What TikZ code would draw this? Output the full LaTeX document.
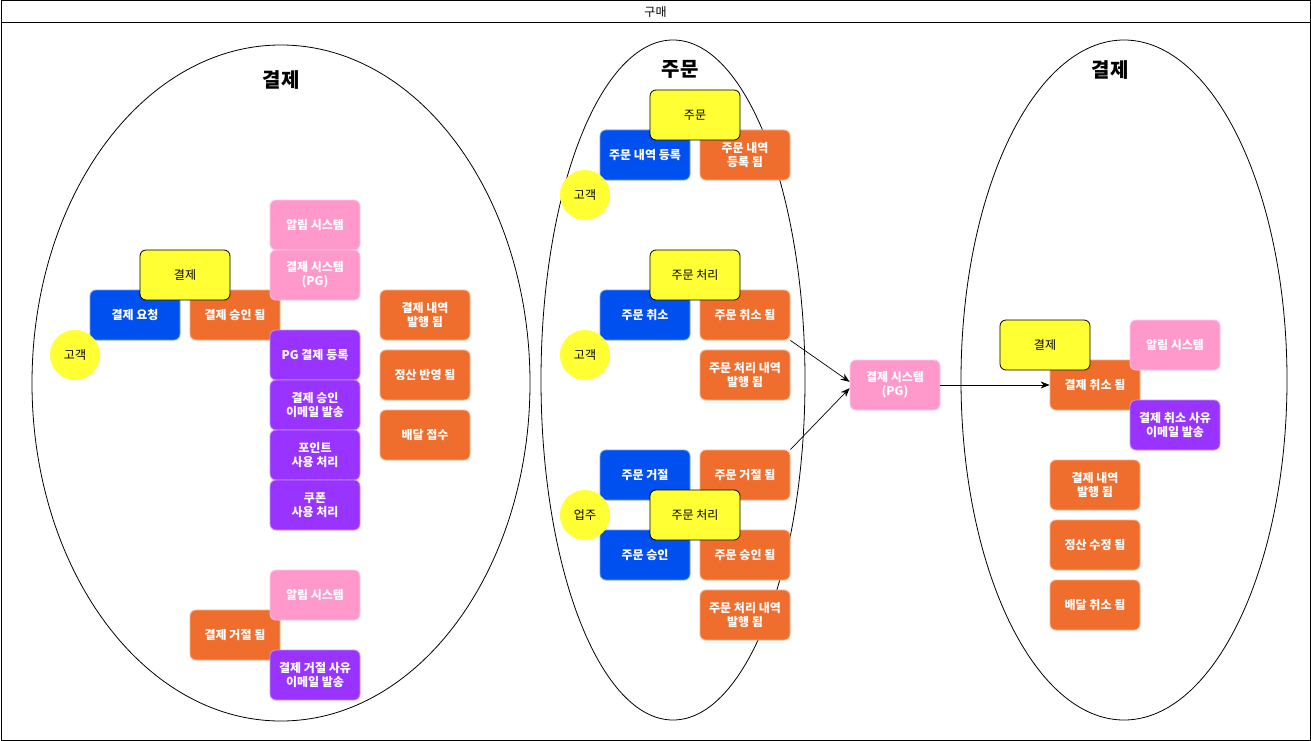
\documentclass[tikz,border=0pt]{standalone}
\usepackage{fontspec}
\setmainfont{Noto Sans CJK KR}
\usetikzlibrary{arrows.meta}
\definecolor{cblue}{HTML}{0050EF}
\definecolor{corange}{HTML}{F06E2D}
\definecolor{cpurple}{HTML}{9933FF}
\definecolor{cpink}{HTML}{FF99CC}
\definecolor{cyellow}{HTML}{FFFF33}
\tikzset{
  box/.style={rounded corners=6pt, minimum width=90pt, minimum height=50pt, inner sep=2pt,
    align=center, font=\fontsize{12}{14}\selectfont\bfseries, text=white, line width=0.8pt},
  bluebox/.style={box, fill=cblue, draw=cblue!55!white},
  orangebox/.style={box, fill=corange, draw=corange!55!white},
  purplebox/.style={box, fill=cpurple, draw=cpurple!55!white},
  pinkbox/.style={box, fill=cpink, draw=cpink!55!white},
  ybox/.style={box, fill=cyellow, draw=black, text=black, font=\fontsize{12}{14}\selectfont},
  actor/.style={circle, minimum size=50pt, inner sep=0pt, fill=cyellow, draw=none,
    font=\fontsize{12}{14}\selectfont},
  sectitle/.style={font=\fontsize{20}{24}\selectfont\bfseries},
  conn/.style={-{Stealth[length=9pt,width=7pt]}, line width=0.7pt}
}
\begin{document}
\begin{tikzpicture}[x=1pt,y=-1pt]
\useasboundingbox (0,0) rectangle (1311,741);
\fill[white] (0,0) rectangle (1311,741);
% frame
\draw[line width=1pt] (1,1) rectangle (1310,740);
\draw[line width=1pt] (1,23) -- (1310,23);
\node[font=\fontsize{12}{14}\selectfont] (ttl) at (655.5,12) {구매};
% ellipses
\draw[line width=0.8pt] (281,383) ellipse [x radius=249pt, y radius=338pt];
\draw[line width=0.8pt] (673,380) ellipse [x radius=132pt, y radius=340pt];
\draw[line width=0.8pt] (1124,380) ellipse [x radius=163pt, y radius=340pt];
\node[sectitle] (t1) at (281,80) {결제};
\node[sectitle] (t2) at (680,69) {주문};
\node[sectitle] (t3) at (1110,70) {결제};

% ---------- left section ----------
\node[bluebox] (req) at (135,315) {결제 요청};
\node[orangebox] (appr) at (235,315) {결제 승인 됨};
\node[ybox] (pay1) at (185,275) {결제};
\node[actor] (cust1) at (75,355) {고객};
\node[pinkbox] (noti1) at (315,225) {알림 시스템};
\node[pinkbox] (pgs1) at (315,275) {결제 시스템\\(PG)};
\node[purplebox] (pgreg) at (315,355) {PG 결제 등록};
\node[purplebox] (mail1) at (315,405) {결제 승인\\이메일 발송};
\node[purplebox] (point) at (315,455) {포인트\\사용 처리};
\node[purplebox] (coupon) at (315,505) {쿠폰\\사용 처리};
\node[orangebox] (hist1) at (425,315) {결제 내역\\발행 됨};
\node[orangebox] (settle1) at (425,375) {정산 반영 됨};
\node[orangebox] (deliv1) at (425,435) {배달 접수};
\node[orangebox] (rej) at (235,635) {결제 거절 됨};
\node[pinkbox] (noti2) at (315,595) {알림 시스템};
\node[purplebox] (mail2) at (315,675) {결제 거절 사유\\이메일 발송};

% ---------- middle section ----------
\node[bluebox] (oreg) at (645,155) {주문 내역 등록};
\node[orangebox] (oregd) at (745,155) {주문 내역\\등록 됨};
\node[ybox] (ord) at (695,115) {주문};
\node[actor] (cust2) at (585,195) {고객};

\node[bluebox] (ocan) at (645,315) {주문 취소};
\node[orangebox] (ocand) at (745,315) {주문 취소 됨};
\node[ybox] (proc1) at (695,275) {주문 처리};
\node[actor] (cust3) at (585,355) {고객};
\node[orangebox] (ohist1) at (745,375) {주문 처리 내역\\발행 됨};

\node[bluebox] (orej) at (645,475) {주문 거절};
\node[orangebox] (orejd) at (745,475) {주문 거절 됨};
\node[bluebox] (oacc) at (645,555) {주문 승인};
\node[orangebox] (oaccd) at (745,555) {주문 승인 됨};
\node[ybox] (proc2) at (695,515) {주문 처리};
\node[actor] (owner) at (585,515) {업주};
\node[orangebox] (ohist2) at (745,615) {주문 처리 내역\\발행 됨};

\node[pinkbox] (pg) at (895,385) {결제 시스템\\(PG)};

% ---------- right section ----------
\node[orangebox] (pcan) at (1095,385) {결제 취소 됨};
\node[ybox] (pay3) at (1045,345) {결제};
\node[pinkbox] (noti3) at (1175,345) {알림 시스템};
\node[purplebox] (mail3) at (1175,425) {결제 취소 사유\\이메일 발송};
\node[orangebox] (hist3) at (1095,485) {결제 내역\\발행 됨};
\node[orangebox] (settle3) at (1095,545) {정산 수정 됨};
\node[orangebox] (deliv3) at (1095,605) {배달 취소 됨};

% connectors
\draw[conn] (ocand.south east) -- (pg.176);
\draw[conn] (orejd.north east) -- (pg.184);
\draw[conn] (pg.east) -- (pcan.west);
\end{tikzpicture}
\end{document}
